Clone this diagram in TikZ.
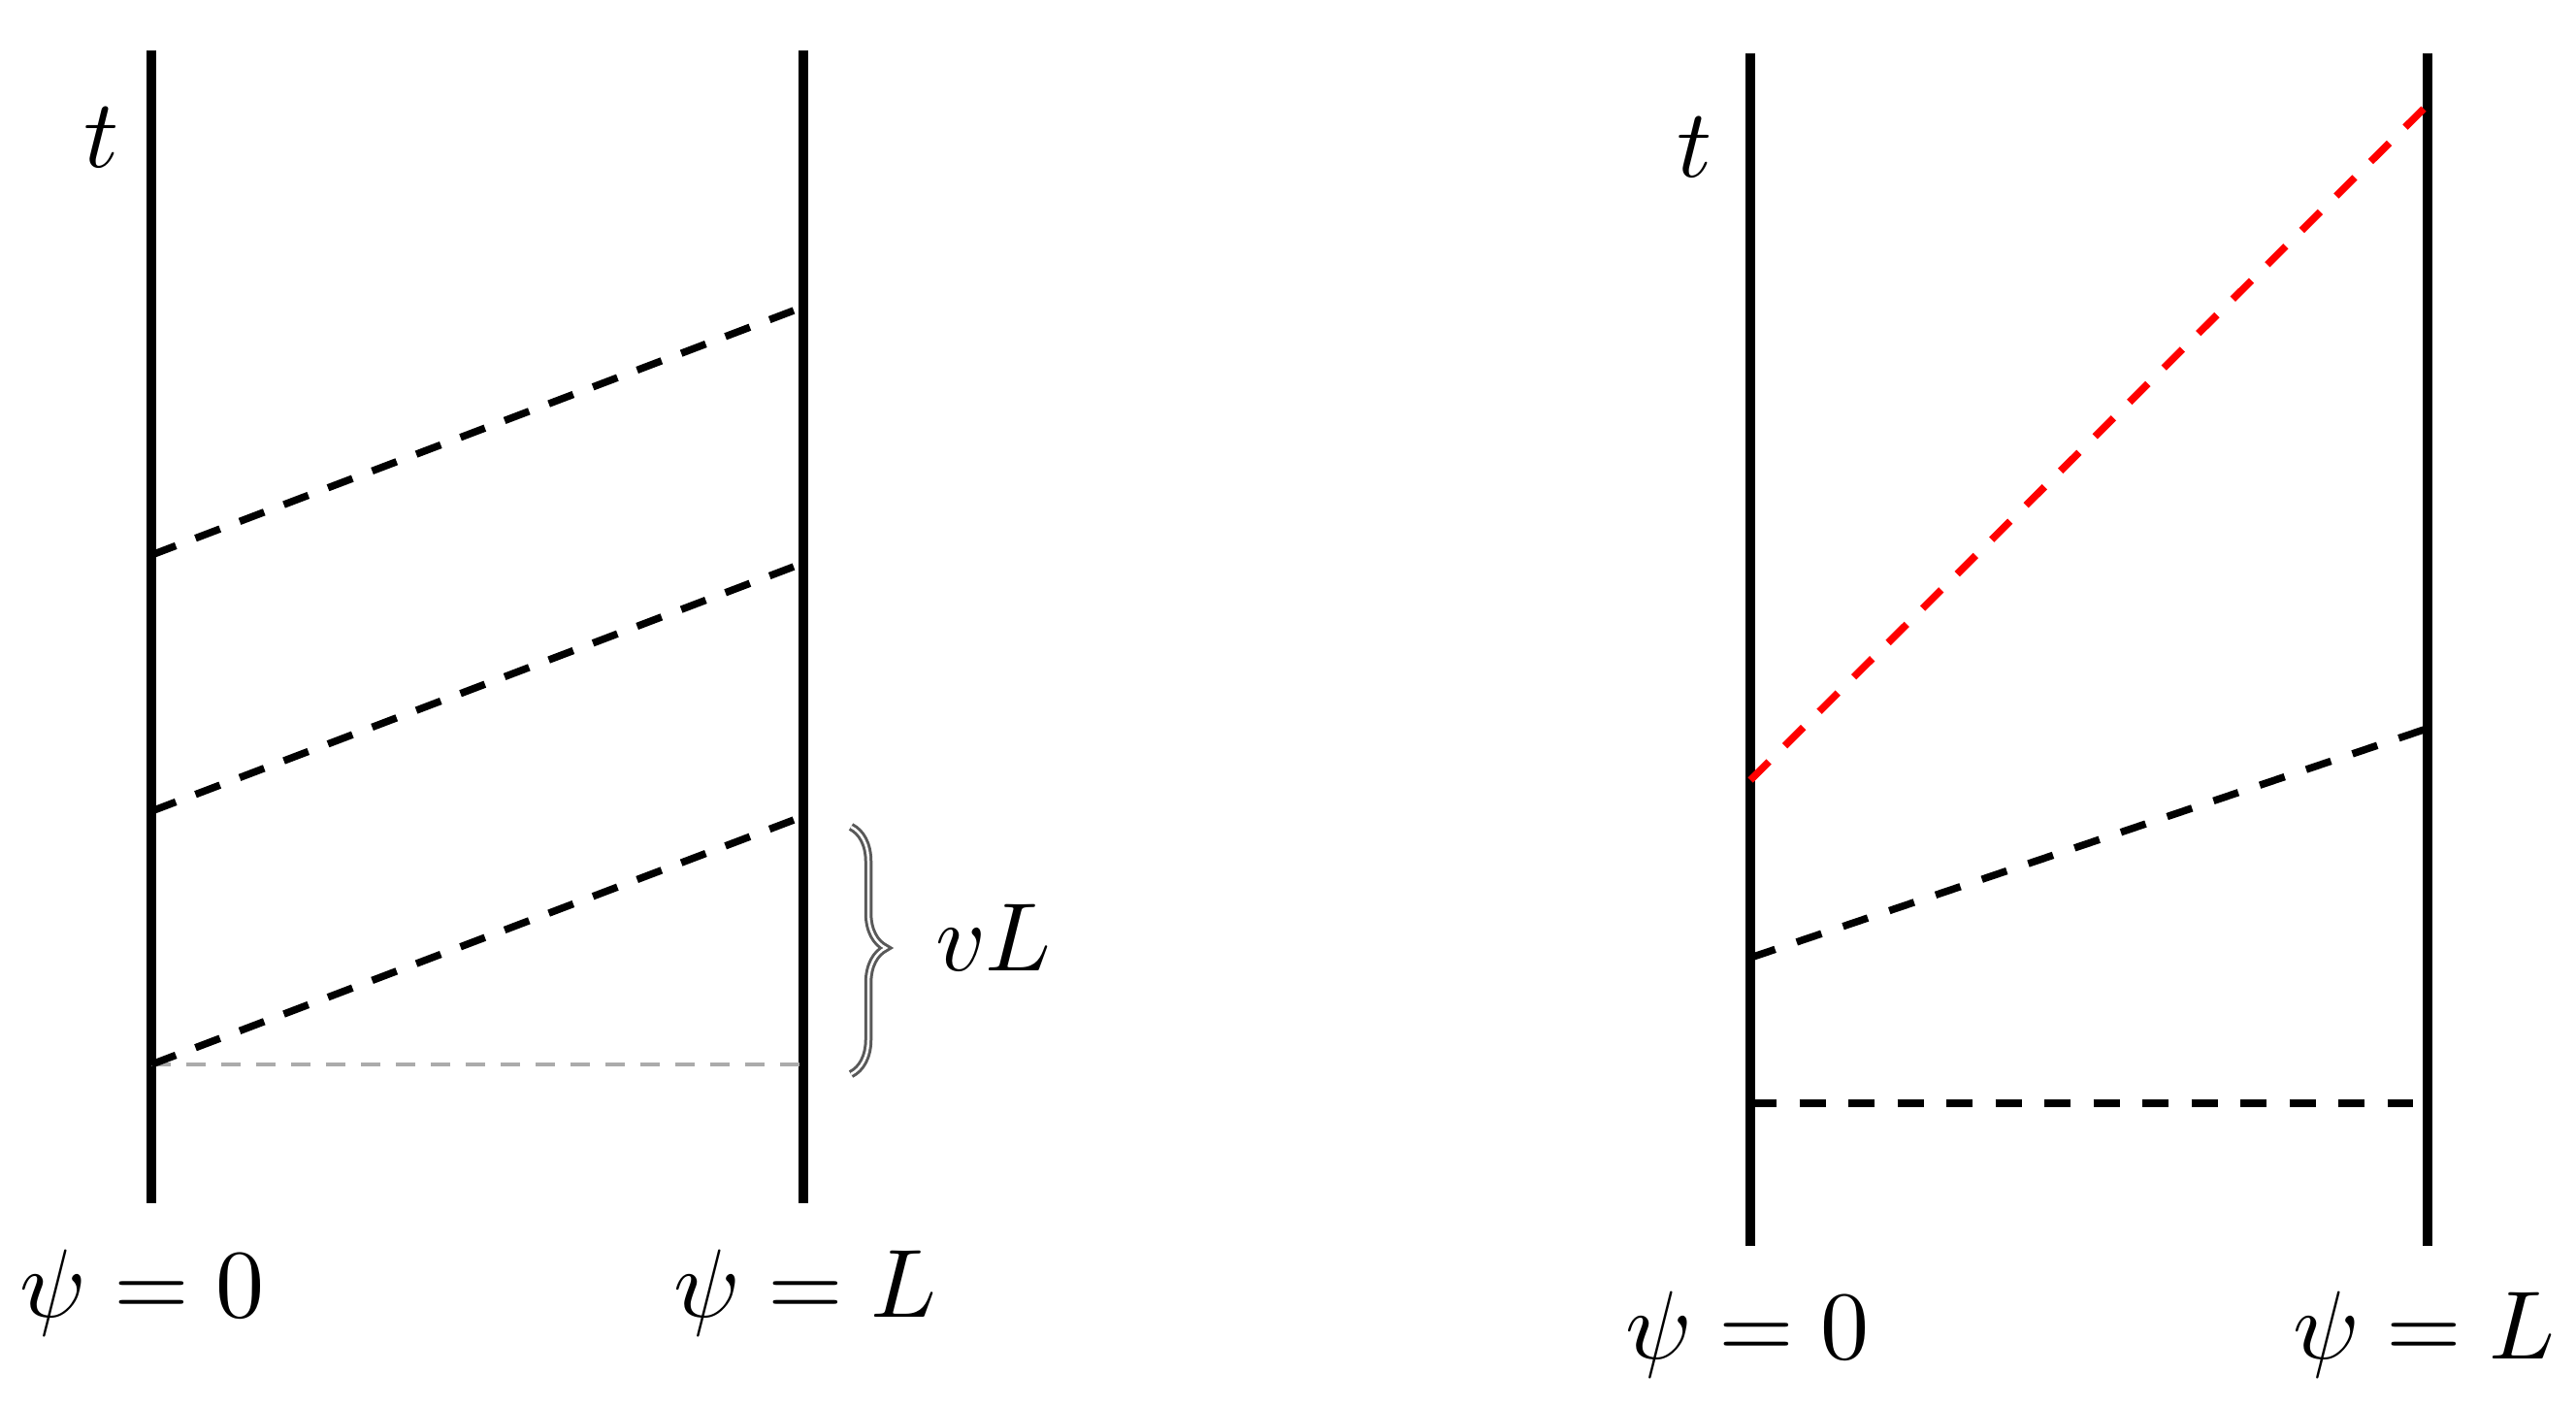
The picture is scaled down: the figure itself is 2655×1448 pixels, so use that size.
\documentclass[tikz,border=0pt]{standalone}
\usetikzlibrary{decorations.pathreplacing}
\begin{document}
\begin{tikzpicture}[x=0.1pt,y=-0.1pt,
  wall/.style={line width=1pt},
  wave/.style={line width=0.75pt, dash pattern=on 2.7pt off 2.2pt},
  redwave/.style={wave, draw=red},
  ref/.style={line width=0.4pt, draw=black!33, dash pattern=on 2pt off 1.6pt},
  lab/.style={inner sep=0pt, font=\fontsize{10.3pt}{12pt}\selectfont},
  bracestyle/.style={decorate, decoration={brace, amplitude=3.6pt, aspect=0.49},
    draw=black!65, line width=0.3pt, double=white, double distance=0.25pt}]
\useasboundingbox (0,0) rectangle (2655,1448);
% ---------- left panel ----------
\coordinate (A0t) at (156,52);
\coordinate (A0b) at (156,1240);
\coordinate (ALt) at (828,52);
\coordinate (ALb) at (828,1240);
\draw[wall] (A0t) -- (A0b);
\draw[wall] (ALt) -- (ALb);
\coordinate (a1s) at (156,572);  \coordinate (a1e) at (818,320);
\coordinate (a2s) at (156,836);  \coordinate (a2e) at (818,584);
\coordinate (a3s) at (156,1097); \coordinate (a3e) at (818,845);
\coordinate (a4e) at (824,1097);
\draw[ref] (a3s) -- (a4e);
\draw[wave, dash pattern=on 2.7pt off 2.17pt] (a1s) -- (a1e);
\draw[wave, dash pattern=on 2.7pt off 2.17pt] (a2s) -- (a2e);
\draw[wave, dash pattern=on 2.7pt off 2.17pt] (a3s) -- (a3e);
\coordinate (bt) at (877,852);
\coordinate (bb) at (877,1107);
\draw[bracestyle] (bt) -- (bb);
\node[lab, anchor=base west] (vl) at (962,1000) {$vL$};
\node[lab] (tA) at (105,142) {$t$};
\node[lab, anchor=base] (pA0) at (147,1357) {$\psi = 0$};
\node[lab, anchor=base] (pAL) at (830,1357) {$\psi = L$};
% ---------- right panel ----------
\coordinate (B0t) at (1804,55);
\coordinate (B0b) at (1804,1284);
\coordinate (BLt) at (2502,55);
\coordinate (BLb) at (2502,1284);
\draw[wall] (B0t) -- (B0b);
\draw[wall] (BLt) -- (BLb);
\coordinate (r1s) at (1804,804);  \coordinate (r1e) at (2498,112);
\coordinate (b1s) at (1804,987);  \coordinate (b1e) at (2498,752);
\coordinate (h1s) at (1804,1137); \coordinate (h1e) at (2487,1137);
\draw[redwave, dash pattern=on 2.7pt off 2.316pt] (r1s) -- (r1e);
\draw[wave, dash pattern=on 2.7pt off 2.34pt] (b1s) -- (b1e);
\draw[wave, dash pattern=on 2.7pt off 2.35pt] (h1s) -- (h1e);
\node[lab] (tB) at (1747,152) {$t$};
\node[lab, anchor=base] (pB0) at (1801,1400) {$\psi = 0$};
\node[lab, anchor=base] (pBL) at (2498,1400) {$\psi = L$};
\end{tikzpicture}
\end{document}
